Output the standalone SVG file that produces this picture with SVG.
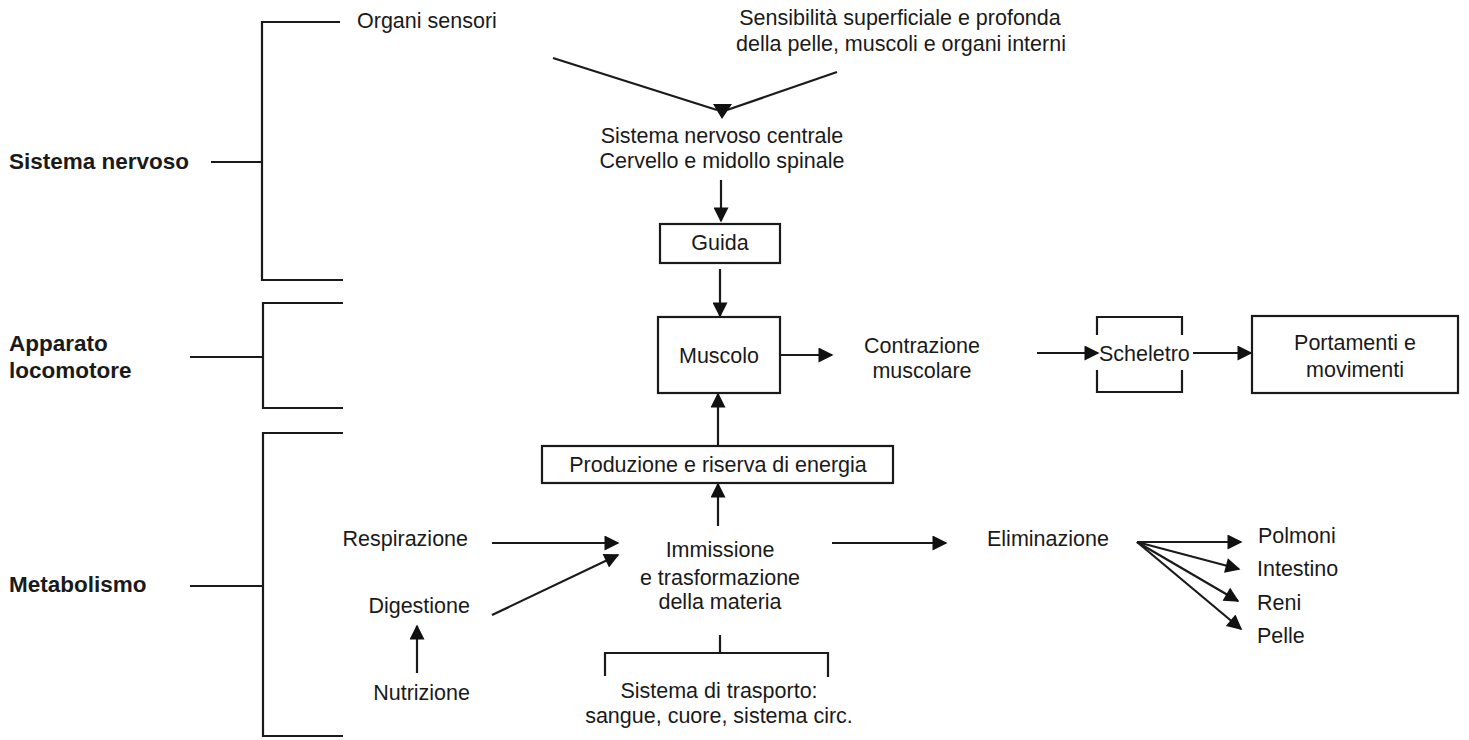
<svg xmlns="http://www.w3.org/2000/svg" width="1469" height="740" viewBox="0 0 1469 740">
<defs>
<marker id="ah" viewBox="0 0 10 10" refX="9" refY="5" markerUnits="userSpaceOnUse" markerWidth="18" markerHeight="15" orient="auto">
<path d="M0,0 L10,5 L0,10 z" fill="#111"/>
</marker>
</defs>
<style>
text{font-family:"Liberation Sans",Arial,sans-serif;font-size:21.5px;fill:#1a1a1a}
.b{font-weight:bold;font-size:22.5px}
.c{text-anchor:middle}
.ln{fill:none;stroke:#1a1a1a;stroke-width:2.2}
.ar{fill:none;stroke:#1a1a1a;stroke-width:2.2;marker-end:url(#ah)}
.box{fill:none;stroke:#1a1a1a;stroke-width:2.2}
</style>
<rect width="1469" height="740" fill="#fff"/>

<g id="connectors">
<path class="ln" d="M340,22 H262 V280 H343"/>
<path class="ln" d="M211,162 H262"/>
<path class="ln" d="M343,303 H263 V408 H343"/>
<path class="ln" d="M190,357 H263"/>
<path class="ln" d="M343,433 H263 V736 H343"/>
<path class="ln" d="M190,586 H263"/>
<path class="ln" d="M553,58 L717,110"/>
<path class="ln" d="M837,72 L727,110"/>
<polygon points="713,104 732,104 722,119" fill="#111"/>
<path class="ar" d="M721,180 V221"/>
<path class="ar" d="M720,269 V316"/>
<path class="ar" d="M780,355 H832"/>
<path class="ar" d="M718,446 V394"/>
<path class="ar" d="M718,526 V484"/>
<path class="ar" d="M1037,353 H1098"/>
<path class="ar" d="M1193,353 H1251"/>
<path class="ar" d="M492,543 H618"/>
<path class="ar" d="M492,615 L618,555"/>
<path class="ar" d="M417,673 V626"/>
<path class="ar" d="M832,543 H946"/>
<path class="ar" d="M1137,542 H1241"/>
<path class="ar" d="M1137,542 L1239,569"/>
<path class="ar" d="M1137,542 L1238,601"/>
<path class="ar" d="M1137,542 L1241,629"/>
<path class="ln" d="M720,635 V653 M605,676 V653 H828 V677"/>
<path class="ln" d="M1097,335 V317 H1182 V335 M1097,370 V392 H1182 V370"/>
</g>

<g id="sistema-nervoso"><text class="b" x="9" y="169">Sistema nervoso</text></g>
<g id="apparato-locomotore"><text class="b" x="9" y="351">Apparato</text><text class="b" x="9" y="378">locomotore</text></g>
<g id="metabolismo"><text class="b" x="9" y="592">Metabolismo</text></g>

<g id="organi-sensori"><text x="357" y="28">Organi sensori</text></g>
<g id="sensibilita"><text class="c" x="900" y="25">Sensibilità superficiale e profonda</text><text class="c" x="901" y="51">della pelle, muscoli e organi interni</text></g>
<g id="snc"><text class="c" x="722" y="143">Sistema nervoso centrale</text><text class="c" x="722" y="168">Cervello e midollo spinale</text></g>
<g id="guida"><rect class="box" x="660" y="224" width="120" height="39"/><text class="c" x="720" y="250">Guida</text></g>
<g id="muscolo"><rect class="box" x="658" y="317" width="122" height="76"/><text class="c" x="719" y="363">Muscolo</text></g>
<g id="contrazione"><text class="c" x="922" y="353">Contrazione</text><text class="c" x="922" y="378">muscolare</text></g>
<g id="scheletro"><text x="1099" y="361">Scheletro</text></g>
<g id="portamenti"><rect class="box" x="1252" y="316" width="206" height="77"/><text class="c" x="1355" y="350">Portamenti e</text><text class="c" x="1355" y="377">movimenti</text></g>
<g id="produzione"><rect class="box" x="542" y="446" width="351" height="37"/><text class="c" x="718" y="472">Produzione e riserva di energia</text></g>
<g id="immissione"><text class="c" x="720" y="557">Immissione</text><text class="c" x="720" y="585">e trasformazione</text><text class="c" x="720" y="609">della materia</text></g>
<g id="trasporto"><text class="c" x="719" y="698">Sistema di trasporto:</text><text class="c" x="719" y="723">sangue, cuore, sistema circ.</text></g>
<g id="respirazione"><text x="468" y="546" text-anchor="end">Respirazione</text></g>
<g id="digestione"><text x="470" y="613" text-anchor="end">Digestione</text></g>
<g id="nutrizione"><text x="470" y="700" text-anchor="end">Nutrizione</text></g>
<g id="eliminazione"><text x="987" y="546">Eliminazione</text></g>
<g id="polmoni"><text x="1258" y="543">Polmoni</text></g>
<g id="intestino"><text x="1257" y="576">Intestino</text></g>
<g id="reni"><text x="1257" y="610">Reni</text></g>
<g id="pelle"><text x="1257" y="643">Pelle</text></g>
</svg>
